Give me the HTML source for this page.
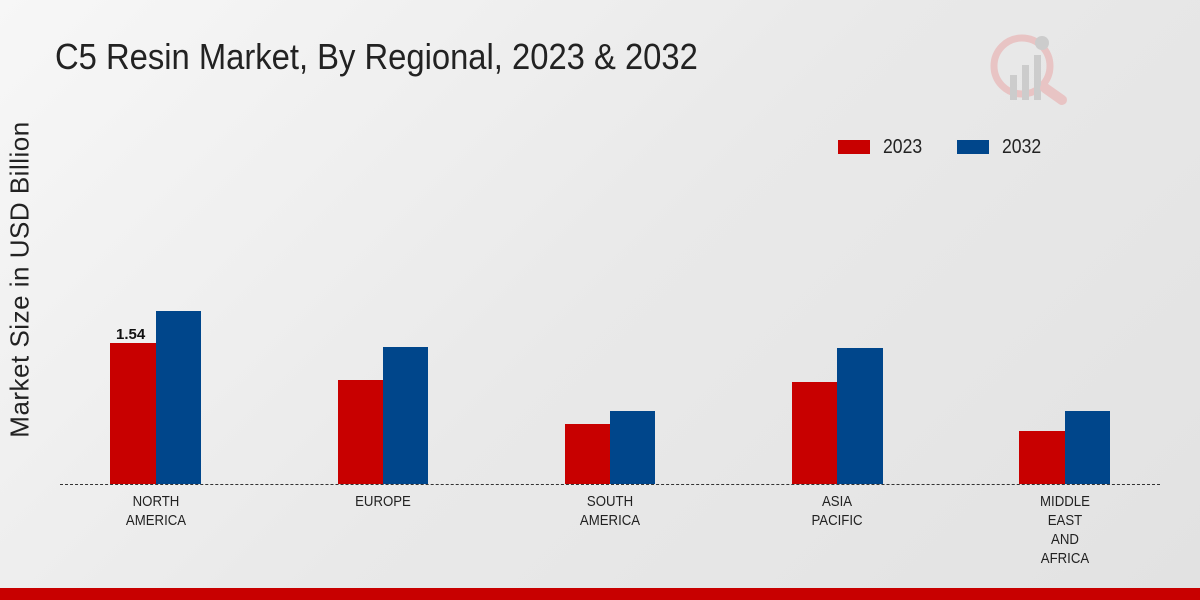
<!DOCTYPE html>
<html><head><meta charset="utf-8"><style>
html,body{margin:0;padding:0}
body{width:1200px;height:600px;overflow:hidden;background:linear-gradient(135deg,#f7f7f7 0%,#e9e9e9 50%,#e2e2e2 100%);font-family:"Liberation Sans",sans-serif;position:relative}
.t{position:absolute;left:55px;top:36px;font-size:36px;color:#222;transform:scaleX(0.91);transform-origin:left top;white-space:nowrap}
.b{position:absolute}
.r{background:#c80000}.u{background:#00468b}
.lab{position:absolute;top:492px;width:120px;text-align:center;font-size:15px;line-height:19px;color:#222;transform:scaleX(0.88)}
</style></head><body>
<div class="t">C5 Resin Market, By Regional, 2023 &amp; 2032</div>
<div style="position:absolute;left:-180px;top:264px;width:400px;text-align:center;transform:rotate(-90deg);font-size:26px;color:#222;letter-spacing:0.5px">Market Size in USD Billion</div>
<svg style="position:absolute;left:990px;top:30px" width="85" height="80">
<circle cx="32" cy="36" r="28" fill="none" stroke="#e8c4c4" stroke-width="7"/>
<rect x="20" y="45" width="7" height="25" fill="#ccc"/><rect x="32" y="35" width="7" height="35" fill="#ccc"/><rect x="44" y="25" width="7" height="45" fill="#ccc"/>
<circle cx="52" cy="13" r="7" fill="#ccc"/><line x1="55" y1="58" x2="72" y2="70" stroke="#e8c4c4" stroke-width="10" stroke-linecap="round"/>
</svg>
<div class="b r" style="left:838px;top:140px;width:32px;height:14px"></div>
<div style="position:absolute;left:883px;top:136px;font-size:20px;color:#222;transform:scaleX(0.88);transform-origin:left">2023</div>
<div class="b u" style="left:957px;top:140px;width:32px;height:14px"></div>
<div style="position:absolute;left:1002px;top:136px;font-size:20px;color:#222;transform:scaleX(0.88);transform-origin:left">2032</div>
<div class="b r" style="left:110px;top:343px;width:46px;height:141px"></div>
<div class="b u" style="left:156px;top:311px;width:45px;height:173px"></div>
<div style="position:absolute;left:116px;top:326px;font-size:15px;font-weight:bold;color:#111">1.54</div>
<div class="b r" style="left:338px;top:380px;width:45px;height:104px"></div>
<div class="b u" style="left:383px;top:347px;width:45px;height:137px"></div>
<div class="b r" style="left:565px;top:424px;width:45px;height:60px"></div>
<div class="b u" style="left:610px;top:411px;width:45px;height:73px"></div>
<div class="b r" style="left:792px;top:382px;width:45px;height:102px"></div>
<div class="b u" style="left:837px;top:348px;width:46px;height:136px"></div>
<div class="b r" style="left:1019px;top:431px;width:46px;height:53px"></div>
<div class="b u" style="left:1065px;top:411px;width:45px;height:73px"></div>
<div style="position:absolute;left:60px;top:484px;width:1100px;border-top:1px dashed #333"></div>
<div class="lab" style="left:96px">NORTH<br>AMERICA</div>
<div class="lab" style="left:323px">EUROPE</div>
<div class="lab" style="left:550px">SOUTH<br>AMERICA</div>
<div class="lab" style="left:777px">ASIA<br>PACIFIC</div>
<div class="lab" style="left:1005px">MIDDLE<br>EAST<br>AND<br>AFRICA</div>
<div class="b r" style="left:0;top:588px;width:1200px;height:12px"></div>
</body></html>
